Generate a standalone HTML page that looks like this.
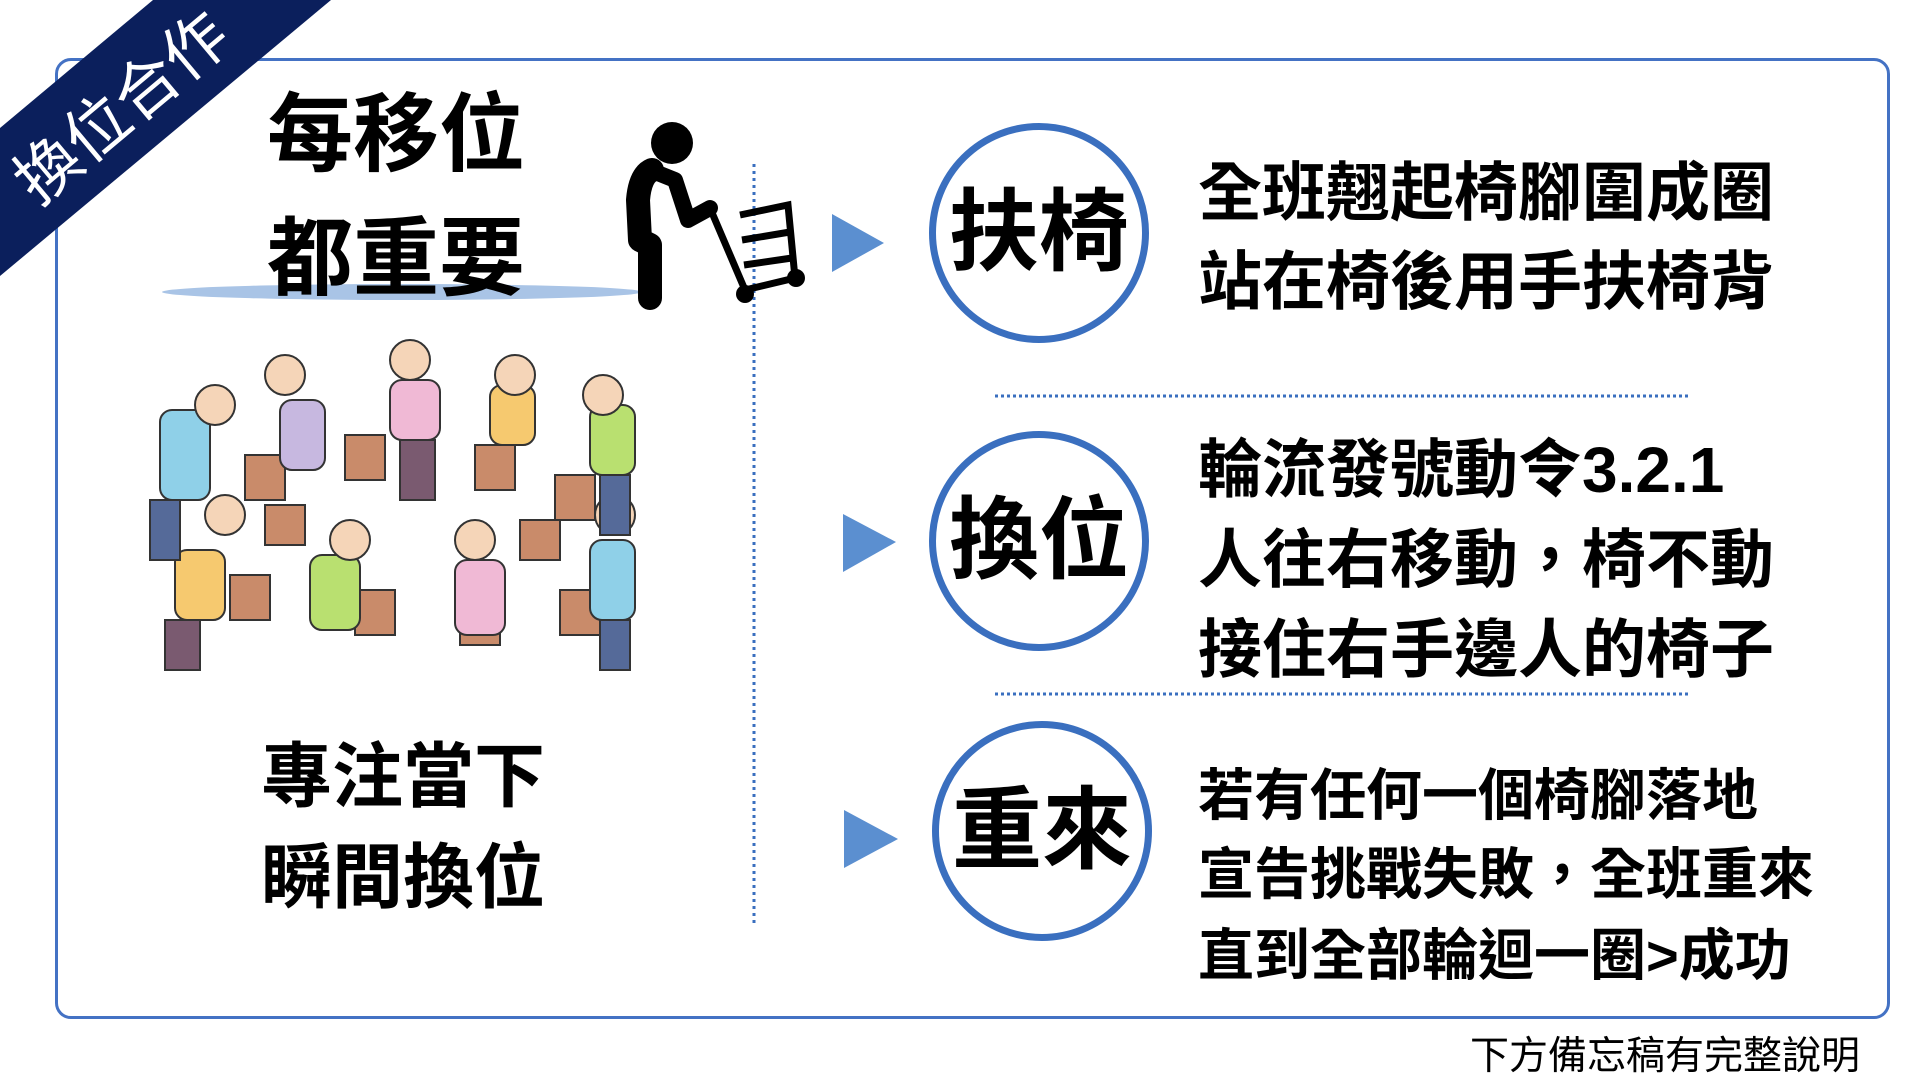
<!DOCTYPE html>
<html><head><meta charset="utf-8">
<style>
html,body{margin:0;padding:0;background:#fff;}
body{width:1920px;height:1082px;position:relative;overflow:hidden;font-family:"Liberation Sans","Noto Sans CJK TC",sans-serif;}
.t{position:absolute;white-space:nowrap;line-height:1;font-weight:bold;color:#000;}
.box{position:absolute;left:55px;top:58px;width:1829px;height:955px;border:3px solid #4472c4;border-radius:16px;}
.circ{position:absolute;width:206px;height:206px;border:7px solid #3a6fbf;border-radius:50%;display:flex;align-items:center;justify-content:center;font-weight:bold;font-size:90px;line-height:1;background:#fff;}
</style></head><body>
<div class="box"></div>

<svg width="1920" height="1082" style="position:absolute;left:0;top:0">
  <polygon points="153,0 331,0 0,276 0,128" fill="#0b1f5c"/>
  <line x1="754" y1="164" x2="754" y2="923" stroke="#3a6fbf" stroke-width="3" stroke-dasharray="3,4"/>
  <line x1="995" y1="396" x2="1689" y2="396" stroke="#3a6fbf" stroke-width="3" stroke-dasharray="3,3"/>
  <line x1="995" y1="694" x2="1689" y2="694" stroke="#3a6fbf" stroke-width="3" stroke-dasharray="3,3"/>
  <polygon points="832,214 884,243 832,272" fill="#5b8fd0"/>
  <polygon points="843,514 896,542 843,572" fill="#5b8fd0"/>
  <polygon points="844,810 898,839 844,868" fill="#5b8fd0"/>
  <ellipse cx="402" cy="292" rx="240" ry="8" fill="#a9c4e6"/>
  <circle cx="672" cy="143" r="21" fill="#000"/>
  <path d="M652,170 Q640,175 638,200 L640,240 L650,245 L650,298" stroke="#000" stroke-width="24" fill="none" stroke-linecap="round" stroke-linejoin="round"/>
  <path d="M655,172 L675,180 L688,220 L710,208" stroke="#000" stroke-width="16" fill="none" stroke-linecap="round" stroke-linejoin="round"/>
  <line x1="710" y1="208" x2="745" y2="290" stroke="#000" stroke-width="7"/>
  <path d="M740,215 L788,205 L795,278 L745,290 M742,240 L790,232 M744,265 L792,258" stroke="#000" stroke-width="7" fill="none"/>
  <circle cx="745" cy="294" r="9" fill="#000"/>
  <circle cx="796" cy="278" r="9" fill="#000"/>
  <g stroke="#333" stroke-width="2">
    <g fill="#c98b6a">
      <rect x="245" y="455" width="40" height="45"/><rect x="345" y="435" width="40" height="45"/>
      <rect x="475" y="445" width="40" height="45"/><rect x="555" y="475" width="40" height="45"/>
      <rect x="230" y="575" width="40" height="45"/><rect x="355" y="590" width="40" height="45"/>
      <rect x="460" y="600" width="40" height="45"/><rect x="560" y="590" width="40" height="45"/>
      <rect x="265" y="505" width="40" height="40"/><rect x="520" y="520" width="40" height="40"/>
    </g>
    <g fill="#8fd0e8"><rect x="160" y="410" width="50" height="90" rx="12"/><rect x="590" y="540" width="45" height="80" rx="12"/></g>
    <g fill="#c7b8e0"><rect x="280" y="400" width="45" height="70" rx="12"/></g>
    <g fill="#f0b9d5"><rect x="390" y="380" width="50" height="60" rx="12"/><rect x="455" y="560" width="50" height="75" rx="12"/></g>
    <g fill="#f6c96f"><rect x="490" y="385" width="45" height="60" rx="12"/><rect x="175" y="550" width="50" height="70" rx="12"/></g>
    <g fill="#b9e070"><rect x="590" y="405" width="45" height="70" rx="12"/><rect x="310" y="555" width="50" height="75" rx="12"/></g>
    <g fill="#f5d5b8">
      <circle cx="215" cy="405" r="20"/><circle cx="285" cy="375" r="20"/><circle cx="410" cy="360" r="20"/>
      <circle cx="515" cy="375" r="20"/><circle cx="603" cy="395" r="20"/><circle cx="225" cy="515" r="20"/>
      <circle cx="350" cy="540" r="20"/><circle cx="475" cy="540" r="20"/><circle cx="615" cy="515" r="20"/>
    </g>
    <g fill="#7a5a70"><rect x="400" y="440" width="35" height="60"/><rect x="165" y="620" width="35" height="50"/></g>
    <g fill="#556a99"><rect x="600" y="475" width="30" height="60"/><rect x="150" y="500" width="30" height="60"/><rect x="600" y="620" width="30" height="50"/></g>
  </g>
</svg>

<div class="t" style="left:122px;top:108px;color:#fff;font-weight:normal;font-size:64px;transform:translate(-50%,-50%) rotate(-40deg);">換位合作</div>

<div class="t" style="left:267px;top:92px;font-size:86px;">每移位</div>
<div class="t" style="left:267px;top:216px;font-size:86px;">都重要</div>
<div class="t" style="left:261px;top:742px;font-size:71px;">專注當下</div>
<div class="t" style="left:261px;top:843px;font-size:71px;">瞬間換位</div>

<div class="circ" style="left:929px;top:123px;">扶椅</div>
<div class="circ" style="left:929px;top:431px;">換位</div>
<div class="circ" style="left:932px;top:721px;">重來</div>

<div class="t" style="left:1198px;top:161px;font-size:64px;">全班翹起椅腳圍成圈</div>
<div class="t" style="left:1198px;top:250px;font-size:64px;">站在椅後用手扶椅背</div>
<div class="t" style="left:1198px;top:438px;font-size:64px;">輪流發號動令3.2.1</div>
<div class="t" style="left:1198px;top:528px;font-size:64px;">人往右移動，椅不動</div>
<div class="t" style="left:1198px;top:618px;font-size:64px;">接住右手邊人的椅子</div>
<div class="t" style="left:1198px;top:768px;font-size:56px;">若有任何一個椅腳落地</div>
<div class="t" style="left:1198px;top:847px;font-size:56px;">宣告挑戰失敗，全班重來</div>
<div class="t" style="left:1198px;top:928px;font-size:56px;">直到全部輪迴一圈&gt;成功</div>

<div class="t" style="left:1470px;top:1037px;font-size:39px;font-weight:normal;">下方備忘稿有完整說明</div>
</body></html>
